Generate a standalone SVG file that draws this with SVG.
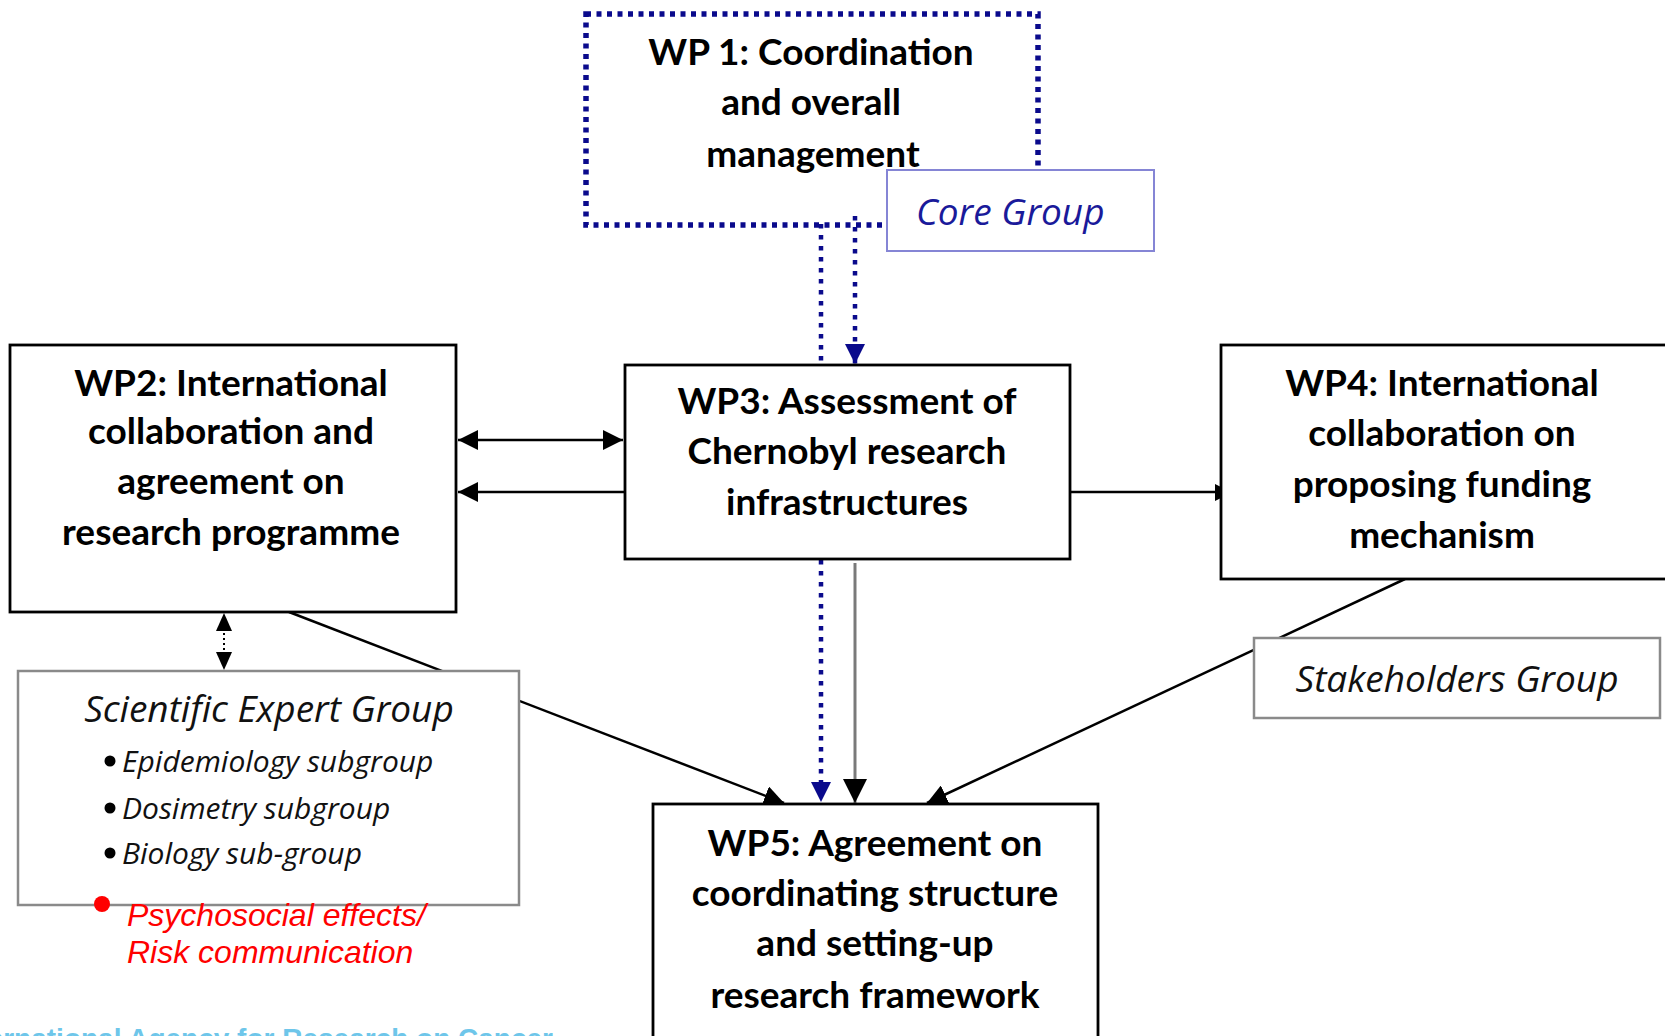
<svg xmlns="http://www.w3.org/2000/svg" width="1665" height="1036" viewBox="0 0 1665 1036">
<style>
.box{fill:#fff;stroke:#000;stroke-width:2.8}
.gbox{fill:#fff;stroke:#8a8a8a;stroke-width:2.5}
.wp{font-family:Lato,"Open Sans",sans-serif;font-weight:bold;font-size:37px;fill:#000;text-anchor:middle}
.grp{font-family:"Open Sans","DejaVu Sans",sans-serif;font-style:italic;font-size:37px;fill:#111}
.sub{font-family:"Open Sans","DejaVu Sans",sans-serif;font-style:italic;font-size:30px;fill:#111}
.red{font-family:"Liberation Sans",Arial,sans-serif;font-style:italic;font-size:32px;fill:#ff0000}
.blk{stroke:#000;stroke-width:2.5;fill:none}
.bdot{stroke:#0a0a8c;stroke-width:4.5;stroke-dasharray:4.5 6.5;fill:none}
</style>
<defs>
<marker id="ah" viewBox="0 0 10 10" refX="10" refY="5" markerWidth="8" markerHeight="8" markerUnits="strokeWidth" orient="auto-start-reverse">
<path d="M0,0 L10,5 L0,10 z" fill="#000"/>
</marker>
<marker id="ahb" viewBox="0 0 10 10" refX="10" refY="5" markerWidth="4.5" markerHeight="4.5" markerUnits="strokeWidth" orient="auto">
<path d="M0,0 L10,5 L0,10 z" fill="#0a0a8c"/>
</marker>
</defs>

<g id="connectors">
<line class="blk" x1="289" y1="612" x2="784" y2="803" marker-end="url(#ah)"/>
<line class="blk" x1="1405" y1="579" x2="927" y2="803" marker-end="url(#ah)"/>
<line class="bdot" x1="821" y1="224" x2="821" y2="364"/>
<line class="bdot" x1="855" y1="216" x2="855" y2="364" marker-end="url(#ahb)"/>
<line class="blk" x1="458" y1="440" x2="623" y2="440" marker-start="url(#ah)" marker-end="url(#ah)"/>
<line class="blk" x1="625" y1="492" x2="458" y2="492" marker-end="url(#ah)"/>
<line class="blk" x1="1070" y1="492" x2="1221" y2="492"/>
<path d="M1215,484 L1221,487 L1221,498 L1215,501 z" fill="#000"/>
<line x1="224" y1="628" x2="224" y2="656" stroke="#000" stroke-width="2" stroke-dasharray="2 3"/>
<path d="M224,613 L216,631 L232,631 z" fill="#000"/>
<path d="M224,670 L216,652 L232,652 z" fill="#000"/>
<line class="bdot" x1="821" y1="560" x2="821" y2="802" marker-end="url(#ahb)"/>
<line x1="855" y1="563" x2="855" y2="803" stroke="#7a7a7a" stroke-width="3" marker-end="url(#ah)"/>
</g>

<g id="wp1">
<rect x="586" y="14" width="452" height="211" fill="none" stroke="#0a0a8c" stroke-width="5.5" stroke-dasharray="5 5.5"/>
<text class="wp" x="811" y="65">WP 1: Coordination</text>
<text class="wp" x="811" y="115">and overall</text>
<text class="wp" x="813" y="167">management</text>
</g>

<g id="coregroup">
<rect x="887" y="170" width="267" height="81" fill="#fff" stroke="#8585d5" stroke-width="2"/>
<text class="grp" x="916" y="225" style="fill:#1a1a9a">Core Group</text>
</g>

<g id="wp2">
<rect class="box" x="10" y="345" width="446" height="267"/>
<text class="wp" x="231" y="396">WP2: International</text>
<text class="wp" x="231" y="444">collaboration and</text>
<text class="wp" x="231" y="494">agreement on</text>
<text class="wp" x="231" y="545">research programme</text>
</g>

<g id="wp3">
<rect class="box" x="625" y="365" width="445" height="194"/>
<text class="wp" x="847" y="414">WP3: Assessment of</text>
<text class="wp" x="847" y="464">Chernobyl research</text>
<text class="wp" x="847" y="515">infrastructures</text>
</g>

<g id="wp4">
<rect class="box" x="1221" y="345" width="450" height="234"/>
<text class="wp" x="1442" y="396">WP4: International</text>
<text class="wp" x="1442" y="446">collaboration on</text>
<text class="wp" x="1442" y="497">proposing funding</text>
<text class="wp" x="1442" y="548">mechanism</text>
</g>

<g id="seg">
<rect class="gbox" x="18" y="671" width="501" height="234"/>
<text class="grp" x="269" y="722" text-anchor="middle">Scientific Expert Group</text>
<circle cx="110" cy="761" r="5.5" fill="#000"/>
<text class="sub" x="122" y="772">Epidemiology subgroup</text>
<circle cx="110" cy="808" r="5.5" fill="#000"/>
<text class="sub" x="122" y="819">Dosimetry subgroup</text>
<circle cx="110" cy="853" r="5.5" fill="#000"/>
<text class="sub" x="122" y="864">Biology sub-group</text>
</g>

<g id="psycho">
<circle cx="102" cy="904" r="8" fill="#ff0000"/>
<text class="red" x="127" y="926">Psychosocial effects/</text>
<text class="red" x="127" y="963">Risk communication</text>
</g>

<g id="stakeholders">
<rect class="gbox" x="1254" y="638" width="406" height="80"/>
<text class="grp" x="1457" y="692" text-anchor="middle">Stakeholders Group</text>
</g>

<g id="wp5">
<rect class="box" x="653" y="804" width="445" height="240"/>
<text class="wp" x="875" y="856">WP5: Agreement on</text>
<text class="wp" x="875" y="906">coordinating structure</text>
<text class="wp" x="875" y="956">and setting-up</text>
<text class="wp" x="875" y="1008">research framework</text>
</g>

<g id="footer">
<text x="553" y="1048" text-anchor="end" font-family="Liberation Sans, Arial, sans-serif" font-weight="bold" font-size="28" fill="#6ec6ea">International Agency for Research on Cancer</text>
</g>
</svg>
